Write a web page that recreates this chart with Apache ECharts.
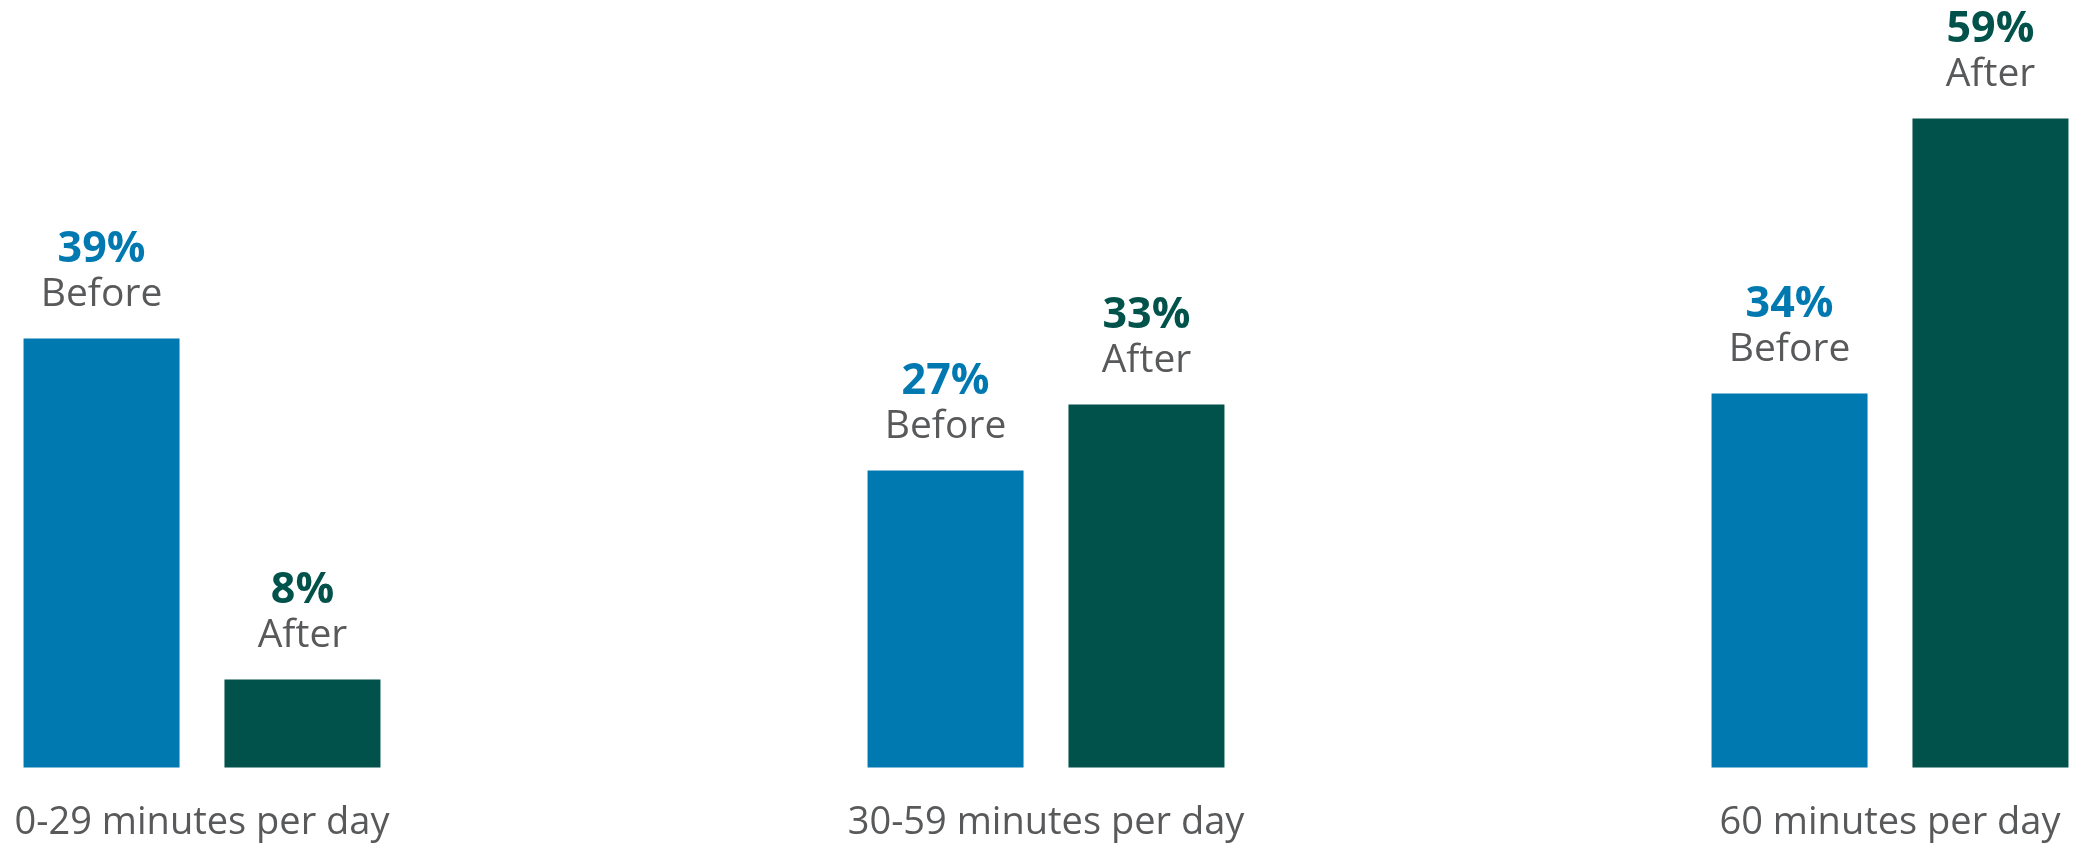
<!DOCTYPE html>
<html>
<head>
<meta charset="utf-8">
<script src="https://cdn.jsdelivr.net/npm/echarts@6/dist/echarts.min.js"></script>
<style>
html,body{margin:0;padding:0;background:#fff;}
#chart{width:2077px;height:845px;}
</style>
</head>
<body>
<div id="chart"></div>
<script>
const categories = ['0-29 minutes per day', '30-59 minutes per day', '60 minutes per day'];
const seriesNames = ['Before', 'After'];
const beforeValues = [39, 27, 34];
const afterValues = [8, 33, 59];

const BLUE = '#0079B1';
const GREEN = '#00524A';
const GREY = '#58595B';
const FONT = '"Open Sans", "Noto Sans", sans-serif';

function makeLabel(color) {
  return {
    show: true,
    position: 'top',
    distance: 22,
    formatter: p => '{p|' + p.value + '%}\n{n|' + p.seriesName + '}',
    rich: {
      p: { fontFamily: FONT, fontSize: 43, fontWeight: 'bold', color: color, lineHeight: 46, align: 'center' },
      n: { fontFamily: FONT, fontSize: 39, color: GREY, lineHeight: 44, align: 'center' }
    }
  };
}

const chart = echarts.init(document.getElementById('chart'), null, { renderer: 'canvas' });
chart.setOption({
  animation: false,
  backgroundColor: '#ffffff',
  grid: { left: 202, right: 187, top: 107.5, bottom: 77.5, containLabel: false },
  xAxis: {
    type: 'category',
    data: categories,
    boundaryGap: false,
    axisLine: { show: false },
    axisTick: { show: false },
    splitLine: { show: false },
    axisLabel: {
      fontFamily: FONT,
      fontSize: 38,
      color: GREY,
      margin: 37,
      interval: 0
    }
  },
  yAxis: {
    type: 'value',
    min: 0,
    max: 60,
    show: false,
    splitLine: { show: false }
  },
  series: [
    {
      name: seriesNames[0],
      type: 'bar',
      data: beforeValues,
      barWidth: 156,
      barGap: '28.8%',
      itemStyle: { color: BLUE },
      label: makeLabel(BLUE)
    },
    {
      name: seriesNames[1],
      type: 'bar',
      data: afterValues,
      barWidth: 156,
      barGap: '28.8%',
      itemStyle: { color: GREEN },
      label: makeLabel(GREEN)
    }
  ]
});
</script>
</body>
</html>
